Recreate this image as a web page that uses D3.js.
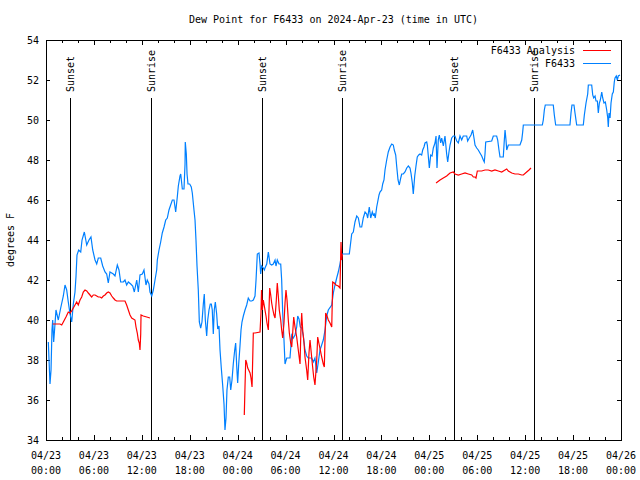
<!DOCTYPE html>
<html>
<head>
<meta charset="utf-8">
<script src="https://cdn.jsdelivr.net/npm/d3@7"></script>
<style>
  body { margin: 0; background: #fff; }
  svg text { font-family: "DejaVu Sans Mono", monospace; font-size: 10px; fill: #000; }
  .axis path, .axis line { stroke: #000; shape-rendering: crispEdges; }
</style>
</head>
<body>
<svg id="chart" width="640" height="480"></svg>
<script>
// hours since 04/23 00:00 UTC
const blueTimes = [0.29,0.38,0.50,0.63,0.75,0.84,0.96,1.09,1.25,1.54,1.84,2.17,2.38,2.59,2.79,3.01,3.22,3.42,3.63,3.76,3.88,4.09,4.35,4.51,4.80,5.10,5.38,5.63,5.85,6.14,6.35,6.55,6.85,7.10,7.39,7.60,7.80,8.01,8.43,8.64,8.93,9.14,9.35,9.68,9.89,10.10,10.31,10.61,10.86,11.06,11.36,11.56,11.77,12.06,12.27,12.52,12.68,12.90,13.02,13.24,13.44,13.65,13.86,13.94,14.15,14.36,14.56,14.78,14.99,15.19,15.40,15.61,15.82,16.03,16.24,16.44,16.57,16.78,16.87,17.07,17.28,17.41,17.44,17.57,17.66,17.78,17.99,18.19,18.32,18.53,18.66,18.78,18.91,19.07,19.20,19.37,19.53,19.70,19.82,19.95,20.12,20.25,20.41,20.57,20.70,20.82,20.95,21.07,21.20,21.37,21.50,21.66,21.79,21.95,22.13,22.29,22.41,22.54,22.66,22.83,23.00,23.13,23.29,23.45,23.63,23.75,23.88,24.00,24.13,24.29,24.42,24.54,24.71,24.92,25.13,25.33,25.55,25.76,25.96,26.17,26.30,26.46,26.67,26.80,26.88,27.01,27.21,27.34,27.42,27.64,27.84,28.05,28.26,28.46,28.68,28.80,28.96,29.18,29.39,29.51,29.64,29.80,29.93,30.14,30.55,30.77,30.97,31.18,31.39,31.52,31.68,31.84,32.02,32.22,32.43,32.64,32.84,33.27,33.47,33.68,33.90,34.10,34.31,34.52,34.72,34.94,35.15,35.35,35.78,35.98,36.19,36.40,36.60,36.81,36.94,37.10,37.98,38.10,38.28,38.48,38.69,38.91,39.11,39.32,39.53,39.73,39.95,40.16,40.28,40.48,40.66,40.86,40.98,41.11,41.23,41.41,41.53,41.70,41.82,42.03,42.16,42.32,42.45,42.66,42.86,43.08,43.29,43.49,43.61,43.79,43.91,44.08,44.24,44.42,44.54,44.74,44.95,45.17,45.37,45.58,45.70,45.87,45.99,46.17,46.33,46.49,46.67,46.83,47.04,47.17,47.33,47.46,47.67,47.75,47.87,48.00,48.17,48.34,48.50,48.71,48.84,48.96,49.12,49.25,49.42,49.55,49.75,49.96,50.17,50.30,50.46,50.59,50.80,51.00,51.21,51.43,51.63,51.84,52.05,52.25,52.68,52.80,53.00,53.22,53.43,53.63,53.72,53.93,54.13,54.34,54.56,54.76,54.88,54.97,55.06,55.81,56.01,56.43,56.56,56.72,56.85,57.26,57.39,57.48,57.60,57.69,57.81,57.89,59.35,59.57,59.69,59.77,62.15,62.27,62.40,62.52,63.52,63.65,63.82,65.61,65.74,65.86,66.11,66.24,66.45,67.28,67.41,67.62,67.83,67.91,68.33,68.46,68.58,68.75,68.87,69.04,69.16,69.29,69.41,69.59,69.71,69.87,70.04,70.21,70.34,70.41,70.50,70.63,70.75,70.91,71.04,71.16,71.25,71.41,71.54,71.66,71.87];
const blueValues = [38.9,38.0,36.8,37.5,39.5,40.0,38.9,39.6,40.5,40.0,40.6,41.2,41.75,41.5,40.9,40.3,39.9,40.8,41.4,42.2,43.25,43.5,43.4,44.0,44.4,43.75,44.0,44.15,43.5,43.0,42.8,43.1,43.1,42.7,42.4,42.3,41.85,42.4,42.3,42.2,42.75,42.5,41.9,41.9,42.0,41.75,41.9,41.8,41.7,41.4,42.0,41.4,42.25,42.3,42.5,41.75,42.0,41.8,41.4,41.2,41.5,42.0,42.5,43.0,43.5,43.9,44.35,44.65,45.0,45.1,45.5,45.75,46.0,46.0,45.4,46.15,46.7,47.2,47.3,46.55,46.55,47.8,48.9,48.3,47.3,46.8,46.8,46.65,46.35,45.5,45.0,44.0,42.7,41.5,39.9,39.6,39.9,40.8,41.3,40.0,39.2,40.0,40.5,40.8,40.8,40.5,39.3,40.5,40.9,40.3,39.55,39.7,38.5,37.6,36.7,35.8,34.5,35.1,36.5,37.15,37.15,36.5,37.0,37.8,38.5,38.85,37.7,36.85,37.8,38.7,39.5,39.9,40.2,40.5,40.75,41.1,40.95,40.95,41.0,41.2,42.0,43.3,43.35,42.8,42.3,42.7,42.6,42.5,42.6,42.8,43.4,42.8,42.75,42.8,43.0,42.7,43.0,42.8,42.8,42.0,40.35,39.0,37.8,38.1,38.1,39.25,39.1,39.25,39.65,40.2,40.05,39.65,39.6,39.2,38.5,38.2,38.1,38.1,37.9,38.1,37.35,37.9,38.5,38.75,39.0,39.5,40.2,40.5,40.75,41.35,41.75,42.1,42.4,42.8,43.1,43.3,43.3,43.7,44.3,44.4,44.9,45.2,45.1,44.65,44.65,45.1,45.4,45.3,45.1,45.65,45.1,45.4,45.25,45.3,45.1,45.65,45.9,46.25,46.4,46.5,46.8,47.0,47.5,48.0,48.4,48.65,48.8,48.75,48.5,48.25,47.7,47.0,46.75,47.1,47.3,47.3,47.4,47.6,47.7,47.6,47.35,46.85,46.3,47.2,47.7,48.15,48.25,48.3,48.25,48.5,48.65,48.85,48.9,48.75,48.2,47.6,48.25,48.2,48.6,48.85,49.2,47.6,49.0,49.25,48.85,49.1,48.7,49.2,48.3,47.9,48.4,48.75,49.1,49.2,49.2,48.95,48.85,49.2,49.0,49.2,49.2,48.95,49.1,49.25,49.5,49.0,48.75,48.6,48.5,48.35,48.2,48.0,47.9,48.3,48.9,48.95,49.2,49.2,49.0,48.5,48.15,48.15,49.0,49.5,49.0,48.5,48.65,48.75,48.75,49.0,49.4,49.75,49.75,50.0,50.5,50.75,50.75,50.25,49.75,49.75,50.35,50.75,50.75,50.35,49.75,49.75,50.25,50.85,51.3,51.75,51.75,51.25,51.1,51.2,50.95,50.95,50.35,50.85,51.0,51.4,51.1,50.85,50.9,50.5,50.1,49.65,50.35,50.1,50.85,51.3,51.4,51.9,52.1,52.2,52.0,52.2,52.25];

// null marks a gap in the analysis series
const redTimes = [0.84,1.34,1.75,1.97,2.17,2.50,2.79,3.01,3.22,3.42,3.63,3.84,4.04,4.26,4.47,4.67,4.88,5.10,5.30,5.51,5.72,5.92,6.14,6.35,6.55,6.76,6.97,7.18,7.39,7.60,7.80,8.01,8.23,8.43,8.64,8.85,9.27,9.68,9.89,10.10,10.31,10.52,10.73,10.93,11.14,11.27,11.43,11.56,11.68,11.77,11.86,11.90,12.18,12.61,13.02,
  18.0,
  24.83,24.92,25.01,25.13,25.26,25.38,25.55,25.67,25.80,25.88,25.96,26.17,26.80,26.92,26.99,27.09,27.21,27.34,27.42,27.55,27.67,27.84,28.01,28.14,28.26,28.39,28.55,28.68,28.84,28.96,29.09,29.21,29.39,29.51,29.64,29.80,29.93,30.05,30.18,30.34,30.47,30.64,30.77,30.89,31.02,31.18,31.39,31.59,31.81,31.93,32.02,32.14,32.31,32.43,32.64,32.77,32.93,33.06,33.18,33.35,33.52,33.68,33.90,34.02,34.19,34.35,34.52,34.72,34.85,35.02,35.19,35.35,35.56,35.78,35.90,36.10,36.31,36.60,36.81,36.94,37.03,37.10,
  42.0,
  48.84,49.34,49.75,50.17,50.59,51.00,51.21,51.63,52.05,52.47,52.88,53.31,53.51,53.72,53.84,54.01,54.56,54.97,55.38,55.81,56.22,56.64,57.06,57.48,57.69,57.89,58.32,58.73,59.14,59.57,59.77,60.19,60.48,60.73];
const redValues = [39.8,39.8,39.8,39.75,39.9,40.15,40.4,40.35,40.45,40.6,40.75,40.9,40.75,41.0,41.15,41.4,41.5,41.45,41.35,41.25,41.15,41.25,41.25,41.2,41.15,41.15,41.1,41.2,41.25,41.35,41.4,41.35,41.2,41.1,41.0,40.95,40.95,40.95,40.95,40.75,40.5,40.25,40.1,40.05,40.0,39.65,39.35,39.0,38.85,38.5,39.3,40.25,40.2,40.15,40.1,
  null,
  35.25,36.7,38.0,37.85,37.6,37.5,37.35,37.1,36.65,38.0,39.35,39.35,39.4,40.35,41.5,40.5,41.0,40.7,40.5,40.2,39.85,39.5,41.6,41.25,40.85,40.55,40.25,40.1,41.0,41.85,41.2,40.5,40.0,39.5,39.1,39.85,40.85,41.5,41.0,40.0,39.35,38.85,38.65,39.35,40.15,39.65,39.15,38.5,37.8,39.65,40.35,39.5,38.85,38.15,37.5,37.0,38.35,39.0,38.5,37.8,37.15,36.75,38.0,39.15,38.8,38.5,38.15,37.8,37.65,40.35,40.2,40.0,39.85,39.65,41.9,41.85,41.75,41.7,41.6,43.9,43.0,43.3,
  null,
  46.85,47.0,47.1,47.2,47.35,47.4,47.3,47.25,47.3,47.35,47.3,47.25,47.15,47.15,47.1,47.45,47.45,47.5,47.5,47.45,47.5,47.45,47.4,47.5,47.55,47.45,47.35,47.3,47.3,47.25,47.25,47.4,47.5,47.6];

const sunTimes = [3.04, 13.19, 27.09, 37.10, 51.13, 61.15];
const sunLabels = ["Sunset", "Sunrise", "Sunset", "Sunrise", "Sunset", "Sunrise"];

const xTickHours = [0, 6, 12, 18, 24, 30, 36, 42, 48, 54, 60, 66, 72];
const xTickDates = ["04/23","04/23","04/23","04/23","04/24","04/24","04/24","04/24","04/25","04/25","04/25","04/25","04/26"];
const xTickClock = ["00:00","06:00","12:00","18:00","00:00","06:00","12:00","18:00","00:00","06:00","12:00","18:00","00:00"];
const yTicks = [34, 36, 38, 40, 42, 44, 46, 48, 50, 52, 54];

const seriesNames = ["F6433 Analysis", "F6433"];
const seriesColors = ["#ff0000", "#0080ff"];

const margin = { left: 46, right: 19, top: 40, bottom: 40 };
const W = 640, H = 480;

const svg = d3.select("#chart");

const x = d3.scaleLinear().domain([0, 72]).range([margin.left, W - margin.right]);
const y = d3.scaleLinear().domain([34, 54]).range([H - margin.bottom, margin.top]);

// Title
svg.append("text")
  .attr("x", (x.range()[0] + x.range()[1]) / 2)
  .attr("y", 23)
  .attr("text-anchor", "middle")
  .text("Dew Point for F6433 on 2024-Apr-23 (time in UTC)");

// Y label
svg.append("text")
  .attr("transform", `translate(14,${(y.range()[0] + y.range()[1]) / 2}) rotate(-90)`)
  .attr("text-anchor", "middle")
  .text("degrees F");

// Minor ticks every 2h
const minorHours = d3.range(0, 73, 2).filter(h => h % 6 !== 0);

svg.append("g").attr("class", "axis")
  .attr("transform", `translate(0,${y(34)})`)
  .call(d3.axisBottom(x).tickValues(minorHours).tickSize(-3).tickFormat(""))
  .select(".domain").remove();
svg.append("g").attr("class", "axis")
  .attr("transform", `translate(0,${y(54)})`)
  .call(d3.axisTop(x).tickValues(minorHours).tickSize(-3).tickFormat(""))
  .select(".domain").remove();

svg.append("g").attr("class", "axis")
  .attr("transform", `translate(0,${y(34)})`)
  .call(d3.axisBottom(x).tickValues(xTickHours).tickSize(-5).tickFormat(""))
  .select(".domain").remove();
svg.append("g").attr("class", "axis")
  .attr("transform", `translate(0,${y(54)})`)
  .call(d3.axisTop(x).tickValues(xTickHours).tickSize(-5).tickFormat(""))
  .select(".domain").remove();

// two-line x labels
const xl = svg.append("g").selectAll("text")
  .data(xTickHours)
  .join("text")
  .attr("text-anchor", "middle")
  .attr("transform", d => `translate(${x(d)},${y(34) + 19})`);
xl.append("tspan").attr("x", 0).attr("y", 0).text((d, i) => xTickDates[i]);
xl.append("tspan").attr("x", 0).attr("y", 15).text((d, i) => xTickClock[i]);

// y axes
const yAxis = svg.append("g").attr("class", "axis")
  .attr("transform", `translate(${x(0)},0)`)
  .call(d3.axisLeft(y).tickValues(yTicks).tickSize(-4).tickPadding(7).tickFormat(d3.format("d")));
yAxis.select(".domain").remove();
yAxis.selectAll("text").style("font-family", "DejaVu Sans Mono").style("font-size", "10px");

svg.append("g").attr("class", "axis")
  .attr("transform", `translate(${x(72)},0)`)
  .call(d3.axisRight(y).tickValues(yTicks).tickSize(-4).tickFormat(""))
  .select(".domain").remove();

// frame
svg.append("rect")
  .attr("x", x(0) + 0.5).attr("y", y(54) + 0.5)
  .attr("width", x(72) - x(0)).attr("height", y(34) - y(54))
  .attr("fill", "none").attr("stroke", "#000")
  .attr("shape-rendering", "crispEdges");

// sunrise / sunset markers
const sun = svg.append("g").selectAll("g").data(sunTimes).join("g");
sun.append("line")
  .attr("x1", d => Math.round(x(d)) + 0.5).attr("x2", d => Math.round(x(d)) + 0.5)
  .attr("y1", 98).attr("y2", y(34))
  .attr("stroke", "#000").attr("shape-rendering", "crispEdges");
sun.append("text")
  .attr("transform", d => `translate(${Math.round(x(d)) + 4},92) rotate(-90)`)
  .attr("text-anchor", "start")
  .text((d, i) => sunLabels[i]);

// series
const line = d3.line()
  .defined(d => d[1] !== null)
  .x(d => x(d[0]))
  .y(d => y(d[1]));

const redData = redTimes.map((t, i) => [t, redValues[i]]);
const blueData = blueTimes.map((t, i) => [t, blueValues[i]]);

svg.append("path")
  .datum(blueData)
  .attr("d", line)
  .attr("fill", "none")
  .attr("stroke", seriesColors[1])
  .attr("stroke-width", 1.2);

svg.append("path")
  .datum(redData)
  .attr("d", line)
  .attr("fill", "none")
  .attr("stroke", seriesColors[0])
  .attr("stroke-width", 1.2);

// legend
const legend = svg.append("g").selectAll("g").data(seriesNames).join("g")
  .attr("transform", (d, i) => `translate(0,${50 + i * 13})`);
legend.append("text")
  .attr("x", 575).attr("y", 0).attr("dy", "0.35em")
  .attr("text-anchor", "end")
  .text(d => d);
legend.append("line")
  .attr("x1", 583).attr("x2", 611)
  .attr("y1", 0.5).attr("y2", 0.5)
  .attr("stroke", (d, i) => seriesColors[i])
  .attr("shape-rendering", "crispEdges");
</script>
</body>
</html>
